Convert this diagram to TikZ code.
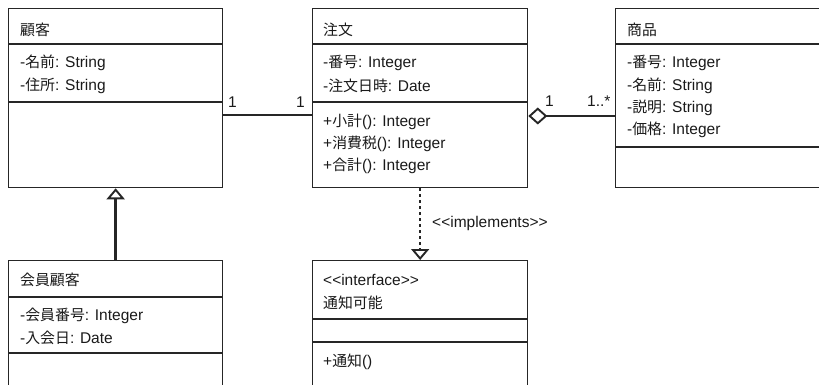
\documentclass[tikz,border=0pt]{standalone}
\usepackage{fontspec}
\setmainfont{Liberation Sans}
\newfontfamily\cjk[Scale=0.96]{Noto Sans CJK JP}
\usetikzlibrary{arrows.meta}
\newcommand{\J}[1]{{\cjk #1}}
\definecolor{ln}{HTML}{262626}
\definecolor{txt}{HTML}{1A1A1A}
\begin{document}
\begin{tikzpicture}[x=1pt,y=-1pt,
  every node/.style={font=\fontsize{15.5}{18}\selectfont, text=txt},
  classbox/.style={draw=ln, line width=1.3pt, anchor=north west, inner sep=0pt},
  sep/.style={draw=ln, line width=1.3pt},
  lbl/.style={anchor=west, inner sep=0pt},
  conn/.style={draw=ln, line width=2.6pt},
  gen/.style={-{Triangle[open, length=11pt, width=18pt, line width=1.9pt]}},
]
\useasboundingbox[fill=white] (0,0) rectangle (819,385);
\clip (0,0) rectangle (819,385);

% boxes
\node[classbox, minimum width=214pt, minimum height=179pt] (kokyaku) at (8,8) {};
\node[classbox, minimum width=215pt, minimum height=179pt] (chumon) at (312,8) {};
\node[classbox, minimum width=230pt, minimum height=179pt] (shohin) at (615,8) {};
\node[classbox, minimum width=214pt, minimum height=150pt] (kaiin) at (8,260) {};
\node[classbox, minimum width=215pt, minimum height=150pt] (tsuchi) at (312,260) {};

% separators
\coordinate (y44) at (0,44);
\coordinate (y102) at (0,102);
\coordinate (y147) at (0,147);
\coordinate (y297) at (0,297);
\coordinate (y353) at (0,353);
\coordinate (y319) at (0,319);
\coordinate (y342) at (0,342);
\draw[sep] (kokyaku.west |- y44) -- (kokyaku.east |- y44);
\draw[sep] (kokyaku.west |- y102) -- (kokyaku.east |- y102);
\draw[sep] (chumon.west |- y44) -- (chumon.east |- y44);
\draw[sep] (chumon.west |- y102) -- (chumon.east |- y102);
\draw[sep] (shohin.west |- y44) -- (shohin.east |- y44);
\draw[sep] (shohin.west |- y147) -- (shohin.east |- y147);
\draw[sep] (kaiin.west |- y297) -- (kaiin.east |- y297);
\draw[sep] (kaiin.west |- y353) -- (kaiin.east |- y353);
\draw[sep] (tsuchi.west |- y319) -- (tsuchi.east |- y319);
\draw[sep] (tsuchi.west |- y342) -- (tsuchi.east |- y342);

% texts: 顧客
\node[lbl] (k0) at (20,30) {\J{顧客}};
\node[lbl] (k1) at (20,63) {-\J{名前}: String};
\node[lbl] (k2) at (20,86) {-\J{住所}: String};
% 注文
\node[lbl] (c0) at (323,30) {\J{注文}};
\node[lbl] (c1) at (323,63) {-\J{番号}: Integer};
\node[lbl] (c2) at (323,86) {-\J{注文日時}: Date};
\node[lbl] (c3) at (323,122) {+\J{小計}(): Integer};
\node[lbl] (c4) at (323,144) {+\J{消費税}(): Integer};
\node[lbl] (c5) at (323,166) {+\J{合計}(): Integer};
% 商品
\node[lbl] (s0) at (627,30) {\J{商品}};
\node[lbl] (s1) at (627,63) {-\J{番号}: Integer};
\node[lbl] (s2) at (627,86) {-\J{名前}: String};
\node[lbl] (s3) at (627,108) {-\J{説明}: String};
\node[lbl] (s4) at (627,130) {-\J{価格}: Integer};
% 会員顧客
\node[lbl] (m0) at (20,280) {\J{会員顧客}};
\node[lbl] (m1) at (20,316) {-\J{会員番号}: Integer};
\node[lbl] (m2) at (20,338) {-\J{入会日}: Date};
% 通知可能
\node[lbl] (n0) at (323,280) {<{}<interface>{}>};
\node[lbl] (n1) at (323,303) {\J{通知可能}};
\node[lbl] (n2) at (323,362) {+\J{通知}()};

% connectors
\coordinate (y115) at (0,115);
\coordinate (y116) at (0,116);
\draw[conn] (kokyaku.east |- y115) -- (chumon.west |- y115);
\node[lbl] (a1) at (228,102) {1};
\node[lbl] (a2) at (296,102) {1};

\draw[conn, -{Diamond[open, length=19pt, width=17pt, line width=1.9pt]}] (shohin.west |- y116) -- (chumon.east |- y116);
\node[lbl] (b1) at (545,101) {1};
\node[lbl] (b2) at (587,101) {1..*};

\draw[conn, gen] (kaiin.north) -- (kokyaku.south);
\draw[conn, gen, dash pattern=on 3pt off 3pt] (chumon.south) -- (tsuchi.north);
\node[lbl] (impl) at (432,223) {<{}<implements>{}>};
\end{tikzpicture}
\end{document}
